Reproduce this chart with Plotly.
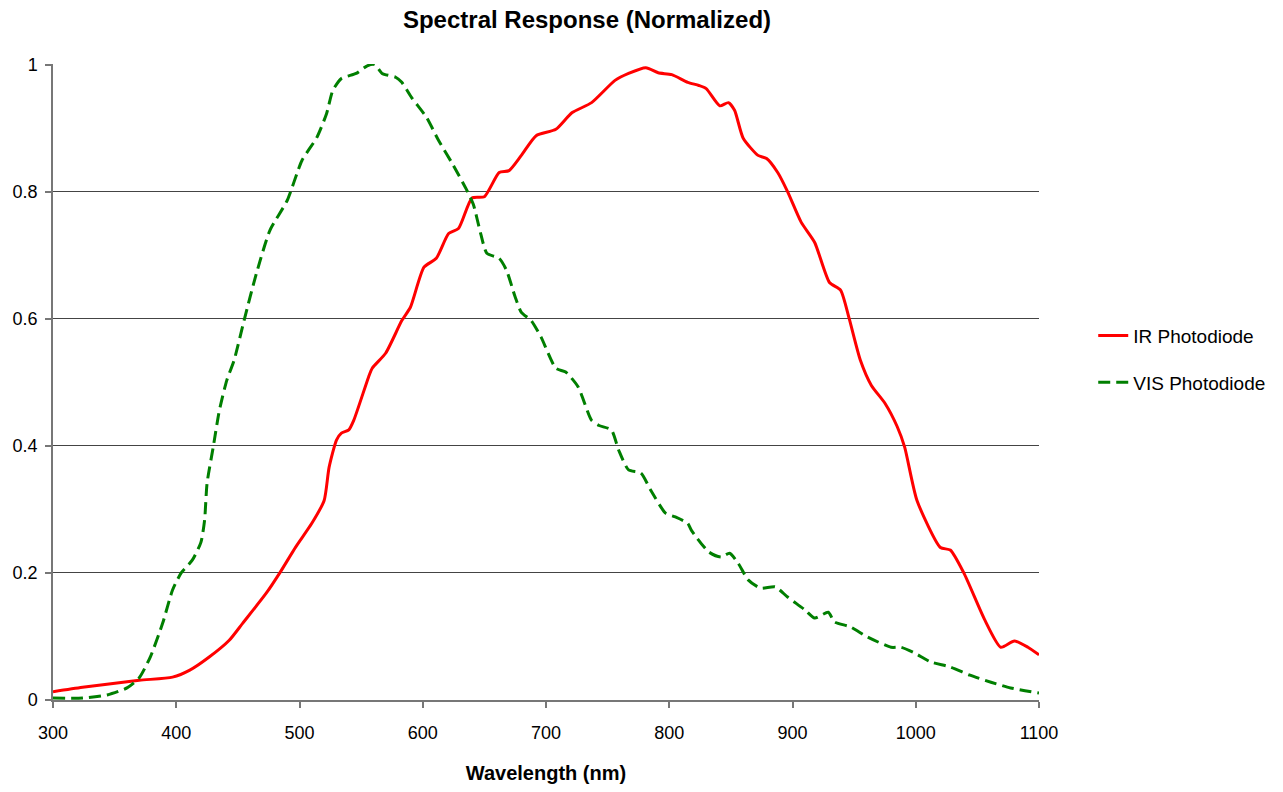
import plotly.graph_objects as go

# IR photodiode (red, solid)
ir_wavelength = [300, 324, 370, 397, 411, 427, 443, 454, 473, 484, 497, 510, 520, 524, 530, 534, 540, 544,
                 556, 559, 570, 583, 590, 601, 611, 621, 629, 640, 650, 662, 670, 680, 692, 708, 721,
                 737, 756, 767, 781, 791, 802, 815, 824, 830, 841, 848, 853, 860, 872, 879, 888, 896,
                 907, 918, 930, 939, 946, 955, 964, 975, 985, 991, 1001, 1020, 1028, 1039, 1056,
                 1069, 1080, 1091, 1100]
ir_response = [0.013, 0.020, 0.031, 0.036, 0.047, 0.068, 0.094, 0.121, 0.168, 0.200, 0.241, 0.278, 0.314,
               0.366, 0.409, 0.420, 0.425, 0.440, 0.508, 0.522, 0.546, 0.597, 0.618, 0.681, 0.695, 0.734,
               0.742, 0.790, 0.792, 0.830, 0.833, 0.857, 0.888, 0.898, 0.924, 0.940, 0.975, 0.986, 0.995,
               0.987, 0.984, 0.972, 0.967, 0.962, 0.935, 0.940, 0.928, 0.884, 0.857, 0.852, 0.830, 0.800,
               0.752, 0.720, 0.657, 0.645, 0.600, 0.535, 0.495, 0.467, 0.430, 0.398, 0.314, 0.240, 0.236,
               0.200, 0.126, 0.083, 0.093, 0.083, 0.071]

# VIS photodiode (green, dashed)
vis_wavelength = [300, 324, 344, 360, 370, 379, 389, 397, 404, 413, 420, 423, 425, 430, 435, 441, 447,
                  455, 465, 476, 490, 502, 514, 522, 527, 534, 546, 555, 561, 567, 578, 583, 591, 603,
                  613, 624, 635, 641, 647, 652, 662, 668, 675, 680, 688, 696, 708, 716, 726, 737, 743,
                  753, 759, 767, 777, 785, 797, 805, 815, 818, 832, 842, 849, 856, 864, 874, 886, 896,
                  910, 918, 929, 934, 947, 961, 980, 988, 999, 1012, 1028, 1044, 1061, 1077, 1100]
vis_response = [0.003, 0.003, 0.008, 0.019, 0.035, 0.068, 0.121, 0.173, 0.200, 0.220, 0.248, 0.283, 0.341,
                0.398, 0.456, 0.503, 0.535, 0.597, 0.671, 0.739, 0.786, 0.849, 0.885, 0.923, 0.959, 0.978,
                0.986, 0.998, 1.000, 0.986, 0.980, 0.972, 0.948, 0.917, 0.880, 0.844, 0.805, 0.780, 0.734,
                0.703, 0.695, 0.676, 0.634, 0.610, 0.597, 0.571, 0.522, 0.516, 0.493, 0.440, 0.432, 0.425,
                0.393, 0.362, 0.357, 0.330, 0.294, 0.288, 0.278, 0.267, 0.233, 0.225, 0.231, 0.215, 0.189,
                0.176, 0.178, 0.162, 0.142, 0.129, 0.138, 0.123, 0.115, 0.099, 0.083, 0.083, 0.074, 0.060,
                0.052, 0.039, 0.028, 0.019, 0.011]

x_ticks = [300, 400, 500, 600, 700, 800, 900, 1000, 1100]
y_ticks = [0, 0.2, 0.4, 0.6, 0.8, 1]
y_tick_labels = ["0", "0.2", "0.4", "0.6", "0.8", "1"]

FONT = "Liberation Sans, Arial, sans-serif"

fig = go.Figure()
fig.add_trace(go.Scatter(
    x=ir_wavelength, y=ir_response, mode="lines", name="IR Photodiode",
    line=dict(color="#ff0000", width=3, shape="spline", smoothing=0.6),
    legendgroup="ir"))
fig.add_trace(go.Scatter(
    x=vis_wavelength, y=vis_response, mode="lines", name="VIS Photodiode",
    line=dict(color="#007f00", width=3, dash="12px,6px", shape="spline", smoothing=0.6),
    legendgroup="vis"))

fig.update_layout(
    width=1275, height=784,
    margin=dict(l=45, r=241, t=56, b=92),
    paper_bgcolor="white", plot_bgcolor="white",
    font=dict(family=FONT, size=18, color="#000000"),
    title=dict(text="<b>Spectral Response (Normalized)</b>", font=dict(family=FONT, size=24, color="#000"),
               x=579 / 1275, xanchor="center", xref="container",
               y=1 - 3 / 784, yanchor="top", yref="container", pad=dict(t=0, b=0)),
    showlegend=True,
    legend=dict(x=1.055, y=0.536, xanchor="left", yanchor="middle",
                font=dict(family=FONT, size=19, color="#000"),
                traceorder="grouped", tracegroupgap=19,
                bgcolor="rgba(0,0,0,0)"),
    xaxis=dict(range=[300, 1100], tickvals=x_ticks, ticktext=[str(v) for v in x_ticks],
               automargin=False,
               showgrid=False, zeroline=False, showline=True, linecolor="#777777", linewidth=1.5,
               ticks="outside", ticklen=6, tickcolor="#777777", tickwidth=1.5,
               ticklabelstandoff=10,
               tickfont=dict(family=FONT, size=18, color="#000"),
               title=dict(text="<b>Wavelength (nm)</b>", font=dict(family=FONT, size=20, color="#000"),
                          standoff=24)),
    yaxis=dict(range=[0, 1.0008], tickvals=y_ticks, ticktext=y_tick_labels,
               automargin=False,
               showgrid=True, gridcolor="#444444", gridwidth=1,
               zeroline=False, showline=True, linecolor="#777777", linewidth=1.5,
               ticks="outside", ticklen=6, tickcolor="#777777", tickwidth=1.5,
               ticklabelstandoff=4,
               tickfont=dict(family=FONT, size=18, color="#000")),
)

fig.write_html("out.html", config={"displayModeBar": False})
